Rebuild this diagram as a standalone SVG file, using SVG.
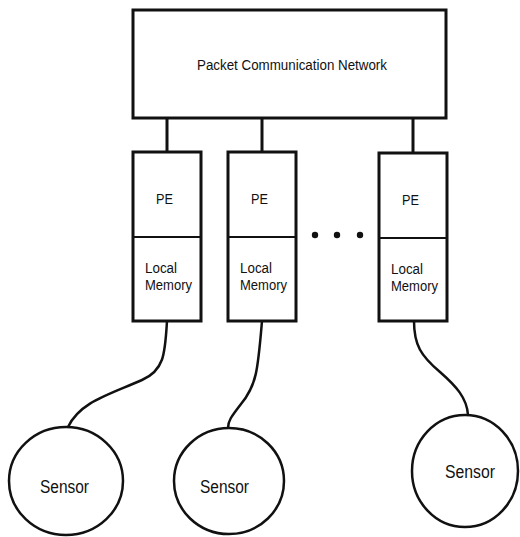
<svg xmlns="http://www.w3.org/2000/svg" width="520" height="537" viewBox="0 0 520 537">
<style>
.box{fill:#fff;stroke:#111;stroke-width:3}
.div{stroke:#111;stroke-width:2}
.wire{fill:none;stroke:#111;stroke-width:2.5}
.stub{stroke:#111;stroke-width:3}
text{font-family:"Liberation Sans",Arial,sans-serif;fill:#111}
.lbl{font-size:15.5px}
.sen{font-size:18px}
</style>
<rect width="520" height="537" fill="#fff"/>
<g id="connectors">
<line class="stub" x1="167" y1="118" x2="167" y2="152"/>
<line class="stub" x1="262" y1="118" x2="262" y2="152"/>
<line class="stub" x1="413" y1="118" x2="413" y2="153"/>
<path class="wire" d="M167,321 C165,352 165,370 142,380 C108,395 80,402 68,427"/>
<path class="wire" d="M262,321 C258,368 257,385 241,404 C231,417 228,421 228,428"/>
<path class="wire" d="M414,321 C414,345 421,356 440,372 C456,386 467,398 468,415"/>
</g>
<g id="network">
<rect class="box" x="133" y="10" width="313" height="108"/>
<text class="lbl" x="197" y="70" textLength="190" lengthAdjust="spacingAndGlyphs">Packet Communication Network</text>
</g>
<g id="pe1">
<rect class="box" x="133" y="152" width="68" height="169"/>
<line class="div" x1="133" y1="237" x2="201" y2="237"/>
<text class="lbl" x="156" y="204" textLength="17" lengthAdjust="spacingAndGlyphs">PE</text>
<text class="lbl" x="145" y="273" textLength="32" lengthAdjust="spacingAndGlyphs">Local</text>
<text class="lbl" x="145" y="290" textLength="47" lengthAdjust="spacingAndGlyphs">Memory</text>
</g>
<g id="pe2">
<rect class="box" x="228" y="152" width="68" height="169"/>
<line class="div" x1="228" y1="237" x2="296" y2="237"/>
<text class="lbl" x="251" y="204" textLength="17" lengthAdjust="spacingAndGlyphs">PE</text>
<text class="lbl" x="240" y="273" textLength="32" lengthAdjust="spacingAndGlyphs">Local</text>
<text class="lbl" x="240" y="290" textLength="47" lengthAdjust="spacingAndGlyphs">Memory</text>
</g>
<g id="ellipsis">
<circle cx="315" cy="235" r="3.2" fill="#111"/>
<circle cx="337" cy="235" r="3.2" fill="#111"/>
<circle cx="360" cy="235" r="3.2" fill="#111"/>
</g>
<g id="pe3">
<rect class="box" x="379" y="153" width="68" height="168"/>
<line class="div" x1="379" y1="238" x2="447" y2="238"/>
<text class="lbl" x="402" y="205" textLength="17" lengthAdjust="spacingAndGlyphs">PE</text>
<text class="lbl" x="391" y="274" textLength="32" lengthAdjust="spacingAndGlyphs">Local</text>
<text class="lbl" x="391" y="291" textLength="47" lengthAdjust="spacingAndGlyphs">Memory</text>
</g>
<g id="sensor1">
<ellipse class="box" cx="66" cy="481" rx="57" ry="54" style="stroke-width:2.5"/>
<text class="sen" x="40" y="493" textLength="49" lengthAdjust="spacingAndGlyphs">Sensor</text>
</g>
<g id="sensor2">
<ellipse class="box" cx="229" cy="481" rx="55" ry="53" style="stroke-width:2.5"/>
<text class="sen" x="200" y="493" textLength="49" lengthAdjust="spacingAndGlyphs">Sensor</text>
</g>
<g id="sensor3">
<ellipse class="box" cx="465" cy="471" rx="53" ry="56" style="stroke-width:2.5"/>
<text class="sen" x="445" y="478" textLength="50" lengthAdjust="spacingAndGlyphs">Sensor</text>
</g>
</svg>
